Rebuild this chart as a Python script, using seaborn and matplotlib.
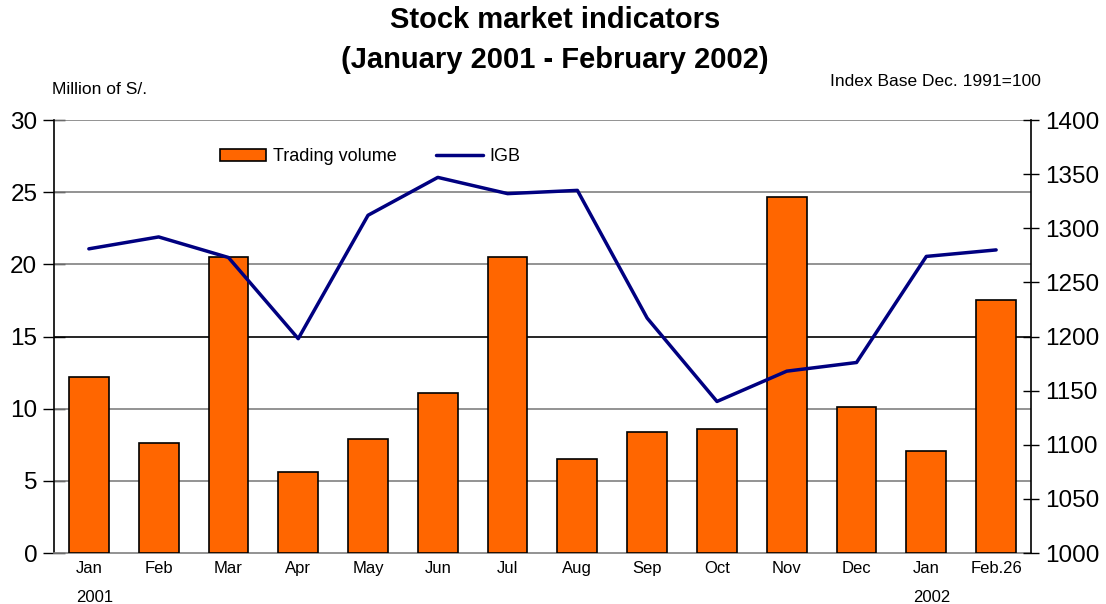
import numpy as np
import pandas as pd
import matplotlib
matplotlib.use("Agg")
import matplotlib.pyplot as plt
import matplotlib.transforms as mtransforms
from matplotlib.patches import Patch
from matplotlib.lines import Line2D
import seaborn as sns

# ---- data ----
periods = ["2001-01", "2001-02", "2001-03", "2001-04", "2001-05", "2001-06", "2001-07",
           "2001-08", "2001-09", "2001-10", "2001-11", "2001-12", "2002-01", "2002-02-26"]
tick_labels = ["Jan", "Feb", "Mar", "Apr", "May", "Jun", "Jul",
               "Aug", "Sep", "Oct", "Nov", "Dec", "Jan", "Feb.26"]
trading_volume = [12.2, 7.6, 20.5, 5.6, 7.9, 11.1, 20.5, 6.5, 8.4, 8.6, 24.65, 10.1, 7.1, 17.55]
igb = [1281, 1292, 1273, 1198, 1312, 1347, 1332, 1335, 1217, 1140, 1168, 1176, 1274, 1280]
year_labels = ["2001", "2002"]
year_positions = [0, 12]

df = pd.DataFrame({"period": periods, "volume": trading_volume,
                   "pos": np.arange(len(periods)), "igb": igb})

sns.set_theme(style="white")
plt.rcParams["font.family"] = ["Liberation Sans", "DejaVu Sans"]
plt.rcParams["text.color"] = "black"
plt.rcParams["xtick.color"] = "black"
plt.rcParams["ytick.color"] = "black"
plt.rcParams["xtick.labelcolor"] = "black"
plt.rcParams["ytick.labelcolor"] = "black"

fig = plt.figure(figsize=(11.06, 6.04), dpi=100)
ax = fig.add_axes([0.0488, 0.0844, 0.9322 - 0.0488, 0.8013 - 0.0844])

bar_color = "#FF6600"
line_color = "#000080"

sns.barplot(data=df, x="period", y="volume", order=periods, color=bar_color,
            width=0.57, edgecolor="black", linewidth=1.2, saturation=1, ax=ax, zorder=3)

ax.set_ylim(0, 30)
ax.set_xlim(-0.5, len(periods) - 0.5)
ax.set_yticks([0, 5, 10, 15, 20, 25, 30])
ax.set_xticks(np.arange(len(periods)))
ax.set_xticklabels(tick_labels, fontsize=12, color="black")
ax.tick_params(axis="x", length=0, pad=6)
ax.tick_params(axis="y", direction="inout", length=16, width=1, labelsize=17.5,
               colors="black", pad=4, left=True)
ax.set_xlabel("")
ax.set_ylabel("")
for yv in [5, 10, 15, 20, 25, 30]:
    ax.axhline(yv, color="#000000" if yv == 15 else "#808080", linewidth=1.2, zorder=1)

ax.spines["top"].set_visible(False)
ax.spines["left"].set_color("black")
ax.spines["left"].set_linewidth(1.2)
ax.spines["bottom"].set_color("#808080")
ax.spines["bottom"].set_linewidth(1.2)
ax.spines["right"].set_visible(False)

ax2 = ax.twinx()
sns.lineplot(data=df, x="pos", y="igb", color=line_color, linewidth=2.5, ax=ax2, zorder=4)
ax2.set_ylim(1000, 1400)
ax2.set_yticks(np.arange(1000, 1401, 50))
ax2.tick_params(axis="y", direction="inout", length=12, width=1, labelsize=17.5,
                colors="black", pad=4, right=True)
ax2.set_xlim(-0.5, len(periods) - 0.5)
ax2.set_ylabel("")
ax2.set_xlabel("")
for s in ["top", "left", "bottom"]:
    ax2.spines[s].set_visible(False)
ax2.spines["right"].set_color("black")
ax2.spines["right"].set_linewidth(1.2)
ax2.grid(False)
ax.grid(False)

# year labels
trans = mtransforms.blended_transform_factory(ax.transData, fig.transFigure)
for lbl, p in zip(year_labels, year_positions):
    ax.text(p + 0.08, 1 - 597 / 604, lbl, transform=trans, ha="center", va="center",
            fontsize=12, color="black")

# titles / axis notes
fig.text(555 / 1106, 1 - 20 / 604, "Stock market indicators", ha="center", va="center",
         fontsize=21, fontweight="bold", color="black")
fig.text(555 / 1106, 1 - 60 / 604, "(January 2001 - February 2002)", ha="center", va="center",
         fontsize=21, fontweight="bold", color="black")
fig.text(52 / 1106, 1 - 89 / 604, "Million of S/.", ha="left", va="center", fontsize=12.5,
         color="black")
fig.text(1041 / 1106, 1 - 81 / 604, "Index Base Dec. 1991=100", ha="right", va="center",
         fontsize=12.5, color="black")

handles = [Patch(facecolor=bar_color, edgecolor="black", linewidth=1.2, label="Trading volume"),
           Line2D([0], [0], color=line_color, linewidth=2.5, label="IGB")]
leg = ax2.legend(handles=handles, ncol=2, frameon=False, loc="center",
                 bbox_to_anchor=(370 / 1106, 1 - 157 / 604), bbox_transform=fig.transFigure,
                 fontsize=13, handlelength=2.6, handleheight=0.7, handletextpad=0.35,
                 columnspacing=2.2, labelcolor="black")

fig.savefig("out.png", dpi=100, facecolor="white")
